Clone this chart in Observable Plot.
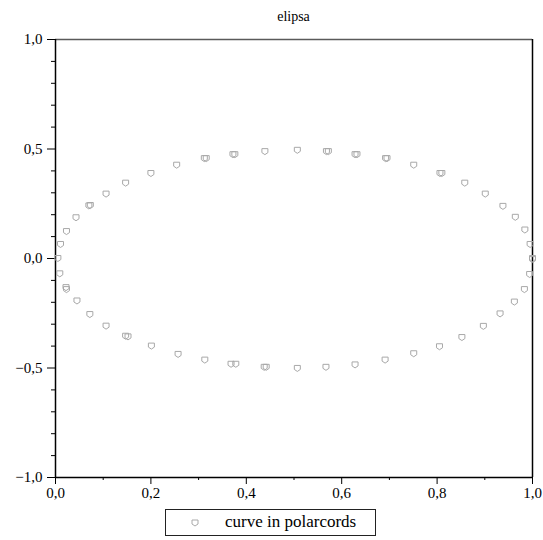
<!DOCTYPE html>
<html><head><meta charset="utf-8">
<script src="https://cdn.jsdelivr.net/npm/d3@7"></script>
<script src="https://cdn.jsdelivr.net/npm/@observablehq/plot@0.6"></script>
<style>
body{margin:0;background:#fff;font-family:'Liberation Serif','Tinos','DejaVu Serif',serif;width:543px;height:540px;position:relative;overflow:hidden;}
#title{position:absolute;left:55px;width:477px;top:9px;text-align:center;font-size:14px;line-height:16px;}
#chart{position:absolute;left:0;top:30px;}
#legend{position:absolute;left:165px;top:509px;width:211px;height:27px;border:1px solid #222;box-sizing:border-box;font-size:17px;}
#legend svg{position:absolute;left:24px;top:8px;}
#legend span{position:absolute;left:59px;top:2px;line-height:20px;white-space:nowrap;}
</style></head>
<body>
<div id="title">elipsa</div>
<div id="chart"></div>
<div id="legend"><svg width="10" height="10"><path d="M2,2H8V6L5,8L2,6Z" fill="none" stroke="#aaa"/></svg><span>curve in polarcords</span></div>
<script>
// upper half of the curve
const upperX = [0.005,0.0105,0.023,0.043,0.070,0.073,0.106,0.147,0.200,0.254,0.312,0.316,0.372,0.376,0.439,0.507,0.568,0.572,0.628,0.632,0.692,0.695,0.751,0.806,0.810,0.858,0.901,0.938,0.964,0.984,0.995,1.000];
const upperY = [0.000,0.064,0.123,0.186,0.240,0.242,0.294,0.344,0.388,0.426,0.456,0.456,0.474,0.474,0.488,0.494,0.488,0.488,0.474,0.474,0.456,0.456,0.426,0.388,0.388,0.344,0.294,0.238,0.188,0.130,0.064,0.000];
// lower half of the curve
const lowerX = [0.009,0.022,0.023,0.045,0.072,0.106,0.147,0.152,0.201,0.257,0.313,0.368,0.378,0.4375,0.4417,0.507,0.567,0.628,0.691,0.751,0.805,0.852,0.897,0.932,0.962,0.983,0.994,1.000];
const lowerY = [-0.070,-0.133,-0.142,-0.194,-0.256,-0.309,-0.355,-0.358,-0.400,-0.438,-0.464,-0.483,-0.483,-0.497,-0.497,-0.502,-0.497,-0.486,-0.464,-0.435,-0.403,-0.361,-0.310,-0.253,-0.199,-0.142,-0.073,-0.005];
// ticks
const xMajor = [0,0.2,0.4,0.6,0.8,1.0];
const xMinor = [0.1,0.3,0.5,0.7,0.9];
const yMajor = [-1,-0.5,0,0.5,1];
const yMinor = [-0.9,-0.8,-0.7,-0.6,-0.4,-0.3,-0.2,-0.1,0.1,0.2,0.3,0.4,0.6,0.7,0.8,0.9];

const points = upperX.map((x,i)=>({x, y: upperY[i]})).concat(lowerX.map((x,i)=>({x, y: lowerY[i]})));
const fmt = d => (d < 0 ? "\u2212" : "") + Math.abs(d).toFixed(1).replace(".", ",");
const shield = {draw(ctx){ ctx.moveTo(-3,-3); ctx.lineTo(3,-3); ctx.lineTo(3,1); ctx.lineTo(0,3); ctx.lineTo(-3,1); ctx.closePath(); }};

const chart = Plot.plot({
  width: 543, height: 470,
  marginLeft: 55, marginRight: 11, marginTop: 9, marginBottom: 23,
  style: {fontFamily: "'Liberation Serif','Tinos','DejaVu Serif',serif", fontSize: "15px", background: "white", color: "black"},
  x: {domain: [0,1], axis: null},
  y: {domain: [-1,1], axis: null},
  marks: [
    Plot.axisX(xMajor, {tickSize: 7, tickPadding: 3, tickFormat: fmt, anchor: "bottom", label: null}),
    Plot.axisX(xMinor, {tickSize: 3, tickFormat: () => "", anchor: "bottom", label: null}),
    Plot.axisY(yMajor, {tickSize: 8, tickPadding: 5, tickFormat: fmt, anchor: "left", label: null}),
    Plot.axisY(yMinor, {tickSize: 4, tickFormat: () => "", anchor: "left", label: null}),
    Plot.ruleY([1], {stroke: "#5a5a5a", strokeWidth: 1.5}),
    Plot.ruleX([1], {stroke: "black", strokeWidth: 1.5}),
    Plot.ruleX([0], {stroke: "black", strokeWidth: 1.5}),
    Plot.ruleY([-1], {stroke: "black", strokeWidth: 1.5}),
    Plot.dot(points, {x: "x", y: "y", symbol: shield, stroke: "#a8a8a8", fill: "none", strokeWidth: 1})
  ]
});
document.getElementById("chart").appendChild(chart);
</script>
</body></html>
